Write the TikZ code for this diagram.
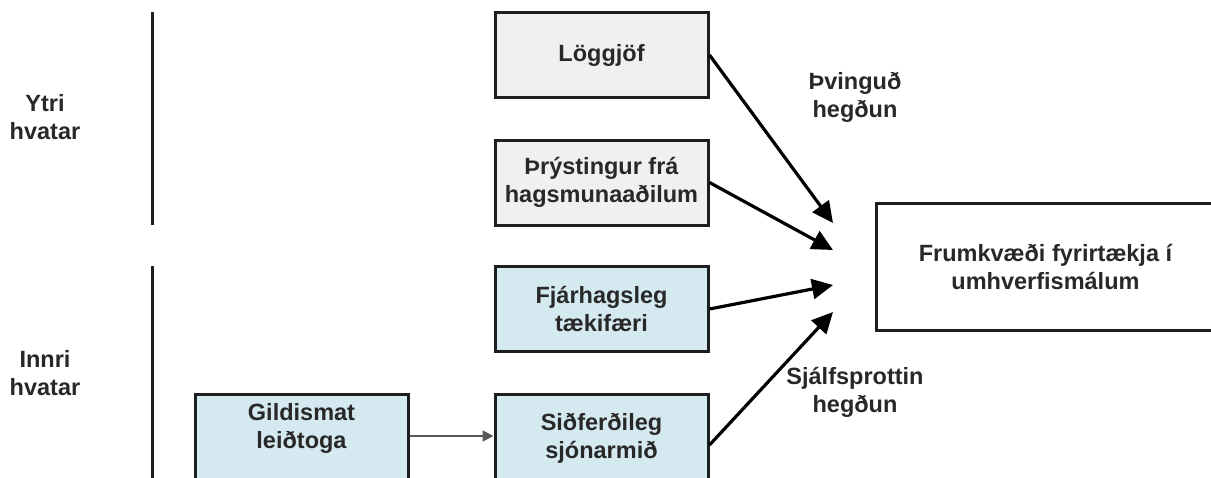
\documentclass[tikz,border=0pt]{standalone}
\usepackage{fontspec}
\setmainfont{Liberation Sans}
\usetikzlibrary{arrows.meta}
\definecolor{boxgray}{RGB}{240,240,240}
\definecolor{boxblue}{RGB}{212,233,240}
\definecolor{txt}{RGB}{40,40,40}
\definecolor{edge}{RGB}{30,30,30}
\begin{document}
\begin{tikzpicture}[x=1pt,y=-1pt,
  every node/.style={font=\bfseries\fontsize{23.5}{28}\selectfont, text=txt, align=center},
  box/.style={draw=edge, line width=3pt, minimum width=213pt, minimum height=85pt, inner sep=0pt},
  graybox/.style={box, fill=boxgray},
  bluebox/.style={box, fill=boxblue},
  bigarrow/.style={draw=black, line width=3.2pt, -{Triangle[length=21pt,width=20pt]}},
  smallarrow/.style={draw=black!65, line width=2pt, -{Triangle[length=11pt,width=11pt]}},
  label/.style={inner sep=0pt}]
\useasboundingbox (0,0) rectangle (1211,477);
\clip (0,0) rectangle (1211,477);
\fill[white] (0,0) rectangle (1211,477);
% side bars
\draw[edge, line width=3pt] (152,12) -- (152,225);
\draw[edge, line width=3pt] (152,266) -- (152,480);
\node[label] (ytri) at (45,117) {Ytri\\hvatar};
\node[label] (innri) at (45,373) {Innri\\hvatar};
% boxes
\node[graybox] (log) at (601.5,55) {Löggjöf};
\node[graybox] (thr) at (601.5,182.5) {Þrýstingur frá\\hagsmunaaðilum};
\node[bluebox] (fja) at (601.5,309) {Fjárhagsleg\\tækifæri};
\node[bluebox, minimum height=90pt, text depth=6pt] (sid) at (601.5,439) {Siðferðileg\\sjónarmið};
\node[bluebox, minimum height=90pt, text depth=26pt] (gil) at (301.5,439) {Gildismat\\leiðtoga};
\node[box, minimum width=339pt, minimum height=127pt] (fru) at (1045.5,266.5) {Frumkvæði fyrirtækja í\\umhverfismálum};
% arrow tips
\coordinate (t1) at (833,223);
\coordinate (t2) at (833,250);
\coordinate (t3) at (833,285);
\coordinate (t4) at (833,312);
\draw[bigarrow] (log.east) -- (t1);
\draw[bigarrow] (thr.east) -- (t2);
\draw[bigarrow] (fja.east) -- (t3);
\draw[bigarrow] ([yshift=-6pt]sid.east) -- (t4);
\draw[smallarrow] ([yshift=3pt]gil.east) -- ([yshift=3pt]sid.west);
% labels
\node[label] (thv) at (855,97) {Þvinguð\\hegðun};
\node[label] (sja) at (855,392) {Sjálfsprottin\\hegðun};
\end{tikzpicture}
\end{document}
